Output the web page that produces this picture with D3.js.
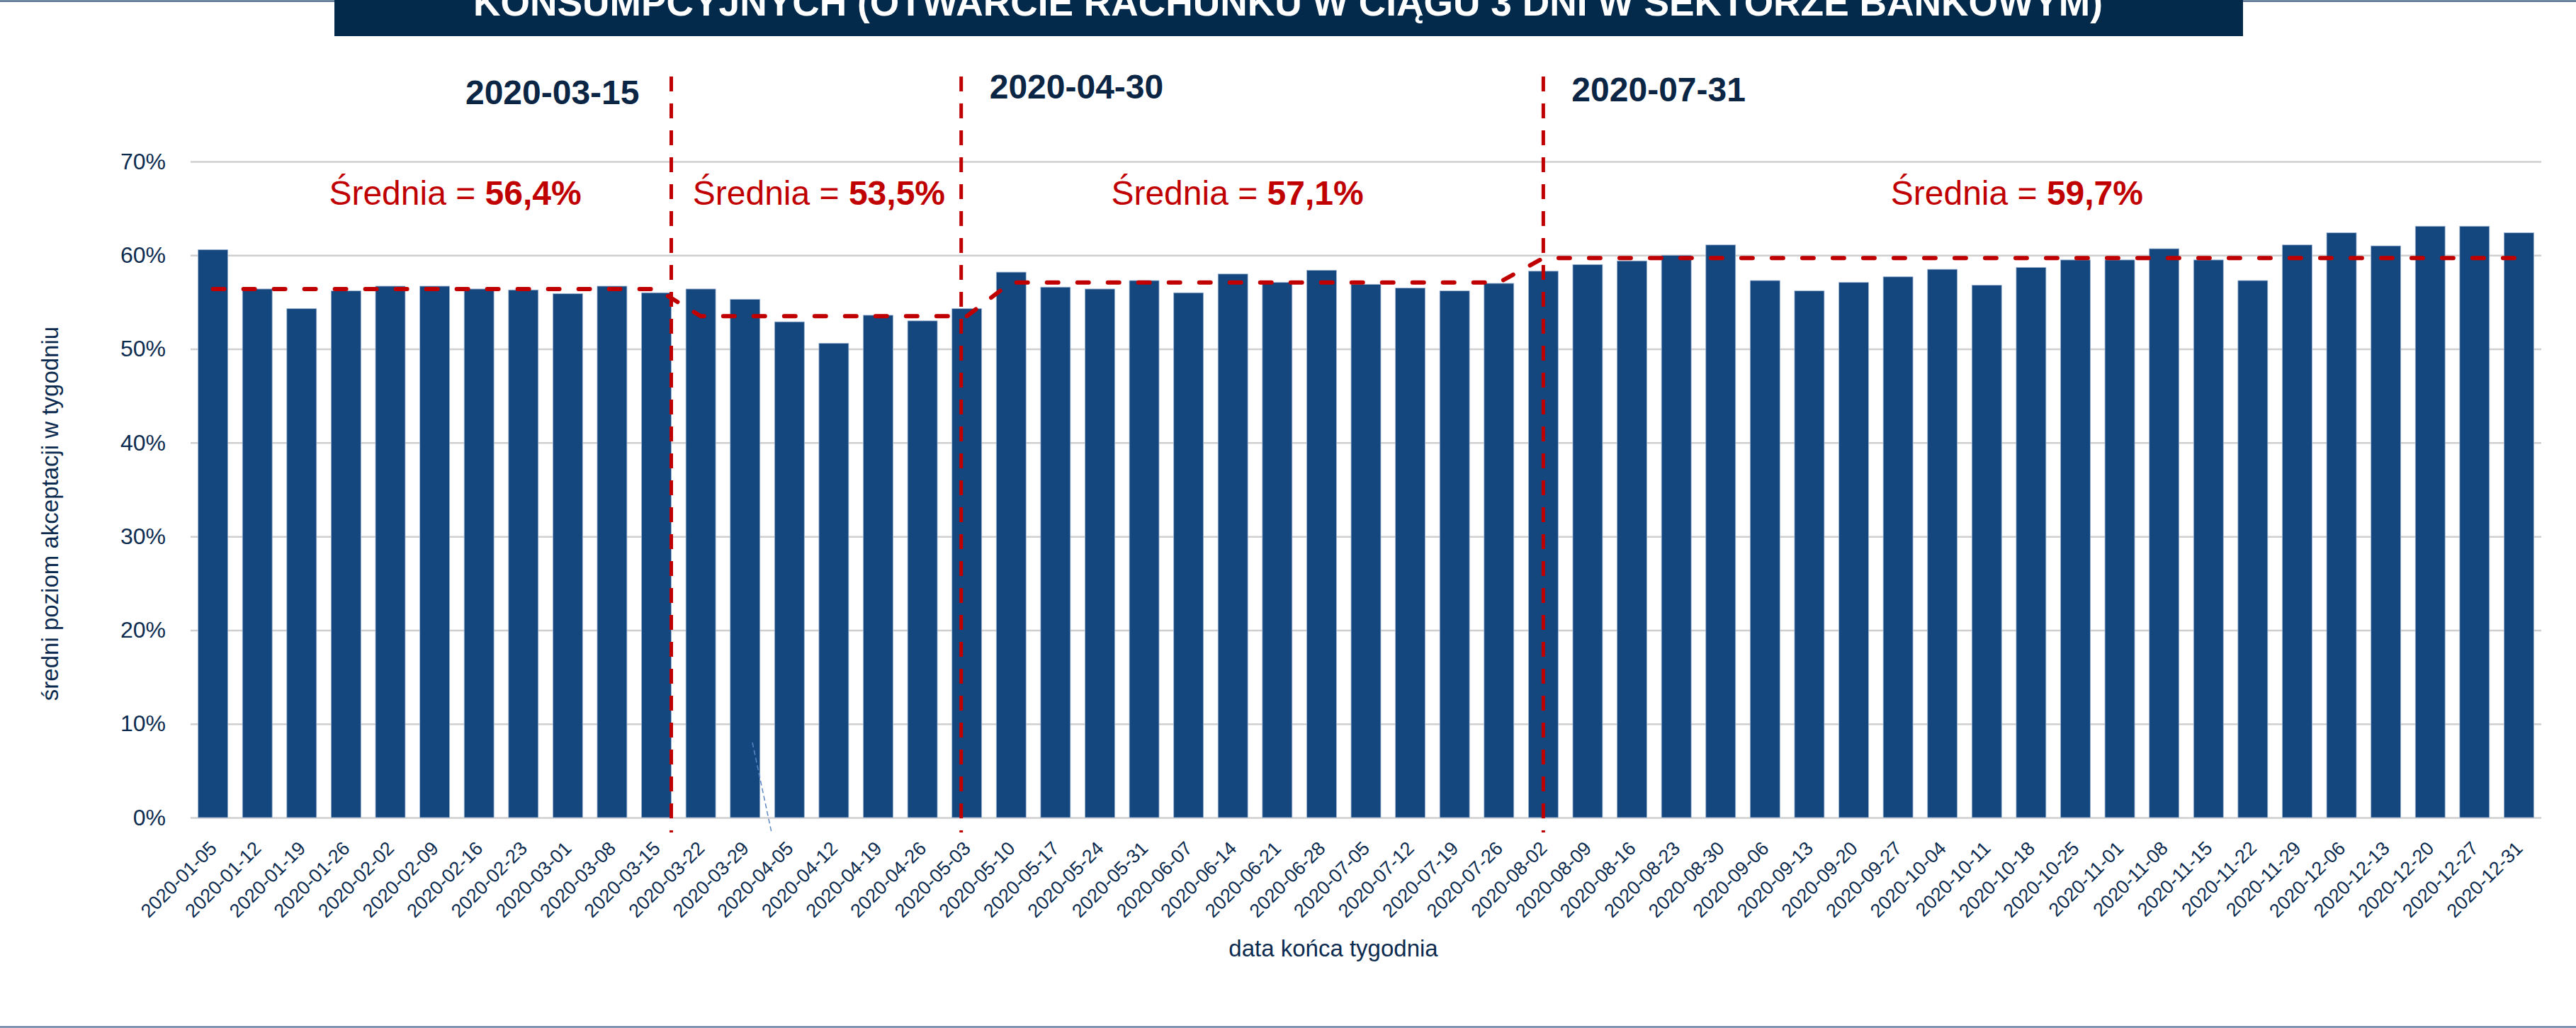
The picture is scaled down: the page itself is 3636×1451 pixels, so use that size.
<!DOCTYPE html>
<html lang="pl">
<head>
<meta charset="utf-8">
<title>Średni poziom akceptacji</title>
<script src="https://cdnjs.cloudflare.com/ajax/libs/d3/7.8.5/d3.min.js"></script>
<style>
  body { margin: 0; background: #fff; }
  svg { display: block; font-family: "Liberation Sans", Arial, sans-serif; }
</style>
</head>
<body>
<svg width="3636" height="1451"></svg>
<script>
// weekly end dates
const categories = [
  '2020-01-05', '2020-01-12', '2020-01-19', '2020-01-26', '2020-02-02', '2020-02-09',
  '2020-02-16', '2020-02-23', '2020-03-01', '2020-03-08', '2020-03-15', '2020-03-22',
  '2020-03-29', '2020-04-05', '2020-04-12', '2020-04-19', '2020-04-26', '2020-05-03',
  '2020-05-10', '2020-05-17', '2020-05-24', '2020-05-31', '2020-06-07', '2020-06-14',
  '2020-06-21', '2020-06-28', '2020-07-05', '2020-07-12', '2020-07-19', '2020-07-26',
  '2020-08-02', '2020-08-09', '2020-08-16', '2020-08-23', '2020-08-30', '2020-09-06',
  '2020-09-13', '2020-09-20', '2020-09-27', '2020-10-04', '2020-10-11', '2020-10-18',
  '2020-10-25', '2020-11-01', '2020-11-08', '2020-11-15', '2020-11-22', '2020-11-29',
  '2020-12-06', '2020-12-13', '2020-12-20', '2020-12-27', '2020-12-31'
];

// average acceptance level in the week (%)
const acceptance = [
  60.6, 56.4, 54.3, 56.2, 56.7, 56.7, 56.4, 56.3, 55.9, 56.7, 56.0, 56.4,
  55.3, 52.9, 50.6, 53.6, 53.0, 54.3, 58.2, 56.6, 56.4, 57.3, 56.0, 58.0,
  57.1, 58.4, 56.9, 56.5, 56.2, 57.0, 58.3, 59.0, 59.4, 60.0, 61.1, 57.3,
  56.2, 57.1, 57.7, 58.5, 56.8, 58.7, 59.5, 59.5, 60.7, 59.5, 57.3, 61.1,
  62.4, 61.0, 63.1, 63.1, 62.4
];

// periods and their means (%)
const periodFirst = ['2020-01-05', '2020-03-22', '2020-05-10', '2020-08-02'];
const periodLast = ['2020-03-15', '2020-05-03', '2020-07-26', '2020-12-31'];
const periodMean = [56.4, 53.5, 57.1, 59.7];

// policy change markers
const markerDates = ['2020-03-15', '2020-04-30', '2020-07-31'];
const markerCategory = ['2020-03-15', '2020-05-03', '2020-08-02'];
const markerFrac = [1.0, 0.31, 0.5];

const yTicks = [0, 10, 20, 30, 40, 50, 60, 70];

const navy = '#0c2b4f';
const red = '#c00000';

const svg = d3.select('svg');

const x = d3.scaleBand().domain(categories).range([269, 3587]).paddingInner(0.33).paddingOuter(0.17);
const y = d3.scaleLinear().domain([0, 70]).range([1154, 228]);

// banner + frame lines
svg.append('rect').attr('x', 472).attr('y', -10).attr('width', 2694).attr('height', 61).attr('fill', '#032a4b');
svg.append('text')
  .attr('x', 1818).attr('y', 22)
  .attr('text-anchor', 'middle')
  .attr('fill', '#fff').attr('font-weight', 'bold').attr('font-size', 53)
  .attr('textLength', 2300).attr('lengthAdjust', 'spacingAndGlyphs')
  .text('KONSUMPCYJNYCH (OTWARCIE RACHUNKU W CIĄGU 3 DNI W SEKTORZE BANKOWYM)');
svg.append('line').attr('x1', 0).attr('x2', 472).attr('y1', 1.5).attr('y2', 1.5).attr('stroke', '#2f4f75').attr('stroke-width', 2);
svg.append('line').attr('x1', 3166).attr('x2', 3636).attr('y1', 1.5).attr('y2', 1.5).attr('stroke', '#2f4f75').attr('stroke-width', 2);
svg.append('line').attr('x1', 0).attr('x2', 3636).attr('y1', 1449.5).attr('y2', 1449.5).attr('stroke', '#4a6890').attr('stroke-width', 2);

// gridlines
svg.append('g')
  .attr('transform', 'translate(269,0)')
  .call(d3.axisLeft(y).tickValues(yTicks).tickSize(-(3587 - 269)).tickFormat(''))
  .call(g => g.select('.domain').remove())
  .call(g => g.selectAll('line').attr('stroke', '#cfcfcf').attr('stroke-width', 2.5));

// y labels
svg.append('g')
  .attr('transform', 'translate(269,0)')
  .call(d3.axisLeft(y).tickValues(yTicks).tickSize(0).tickPadding(35).tickFormat(d => d + '%'))
  .call(g => g.select('.domain').remove())
  .call(g => g.selectAll('text').attr('fill', navy).attr('font-size', 32).attr('font-family', null));

// bars
svg.append('g')
  .selectAll('.bar')
  .data(categories)
  .enter()
  .append('rect')
  .classed('bar', true)
  .attr('x', d => x(d))
  .attr('width', x.bandwidth())
  .attr('y', (d, i) => y(acceptance[i]))
  .attr('height', (d, i) => y(0) - y(acceptance[i]))
  .attr('fill', '#15477f')
  .attr('stroke', '#9fb5d4')
  .attr('stroke-width', 0.8);

// x labels
svg.append('g')
  .attr('transform', `translate(0,${y(0)})`)
  .call(d3.axisBottom(x).tickSize(0))
  .call(g => g.select('.domain').remove())
  .call(g => g.selectAll('text')
    .attr('fill', navy).attr('font-size', 27).attr('font-family', null)
    .attr('text-anchor', 'end').attr('y', 0).attr('dy', null)
    .attr('transform', 'translate(7,45) rotate(-45)'));

// stray leader line from the original
svg.append('line').attr('x1', 1062).attr('y1', 1048).attr('x2', 1089).attr('y2', 1175)
  .attr('stroke', '#5b86c4').attr('stroke-width', 1.5).attr('stroke-dasharray', '7,4');

// period means as a line series
const meanSeries = categories.map(c => {
  const k = periodFirst.findIndex((f, j) => c >= f && c <= periodLast[j]);
  return { c, v: periodMean[k] };
});
svg.append('path')
  .datum(meanSeries)
  .attr('fill', 'none')
  .attr('stroke', red)
  .attr('stroke-width', 6)
  .attr('stroke-linecap', 'round')
  .attr('stroke-dasharray', '16,27')
  .attr('d', d3.line().x(d => x(d.c) + x.bandwidth() / 2).y(d => y(d.v)));

// vertical markers
markerCategory.forEach((c, i) => {
  const mx = x(c) + x.bandwidth() * markerFrac[i];
  svg.append('line')
    .attr('x1', mx).attr('x2', mx).attr('y1', 108).attr('y2', 1175)
    .attr('stroke', red).attr('stroke-width', 5).attr('stroke-dasharray', '21,17');
  const left = i === 0;
  svg.append('text')
    .attr('x', left ? mx - 45 : mx + 40)
    .attr('y', [147, 139, 143][i])
    .attr('text-anchor', left ? 'end' : 'start')
    .attr('fill', '#0b2545').attr('font-weight', 'bold').attr('font-size', 48)
    .text(markerDates[i]);
});

// mean labels
const labelShift = [29, -21, -25, -20];
periodMean.forEach((m, i) => {
  const cx = (x(periodFirst[i]) + x(periodLast[i])) / 2 + x.bandwidth() / 2 + labelShift[i];
  const t = svg.append('text')
    .attr('x', cx).attr('y', 289)
    .attr('text-anchor', 'middle')
    .attr('fill', red).attr('font-size', 48);
  t.append('tspan').text('Średnia = ');
  t.append('tspan').attr('font-weight', 'bold').text(d3.format('.1f')(m).replace('.', ',') + '%');
});

// axis titles
svg.append('text')
  .attr('transform', 'translate(82,725) rotate(-90)')
  .attr('text-anchor', 'middle')
  .attr('fill', navy).attr('font-size', 33)
  .text('średni poziom akceptacji w tygodniu');
svg.append('text')
  .attr('x', 1882).attr('y', 1350)
  .attr('text-anchor', 'middle')
  .attr('fill', navy).attr('font-size', 33)
  .text('data końca tygodnia');
</script>
</body>
</html>
